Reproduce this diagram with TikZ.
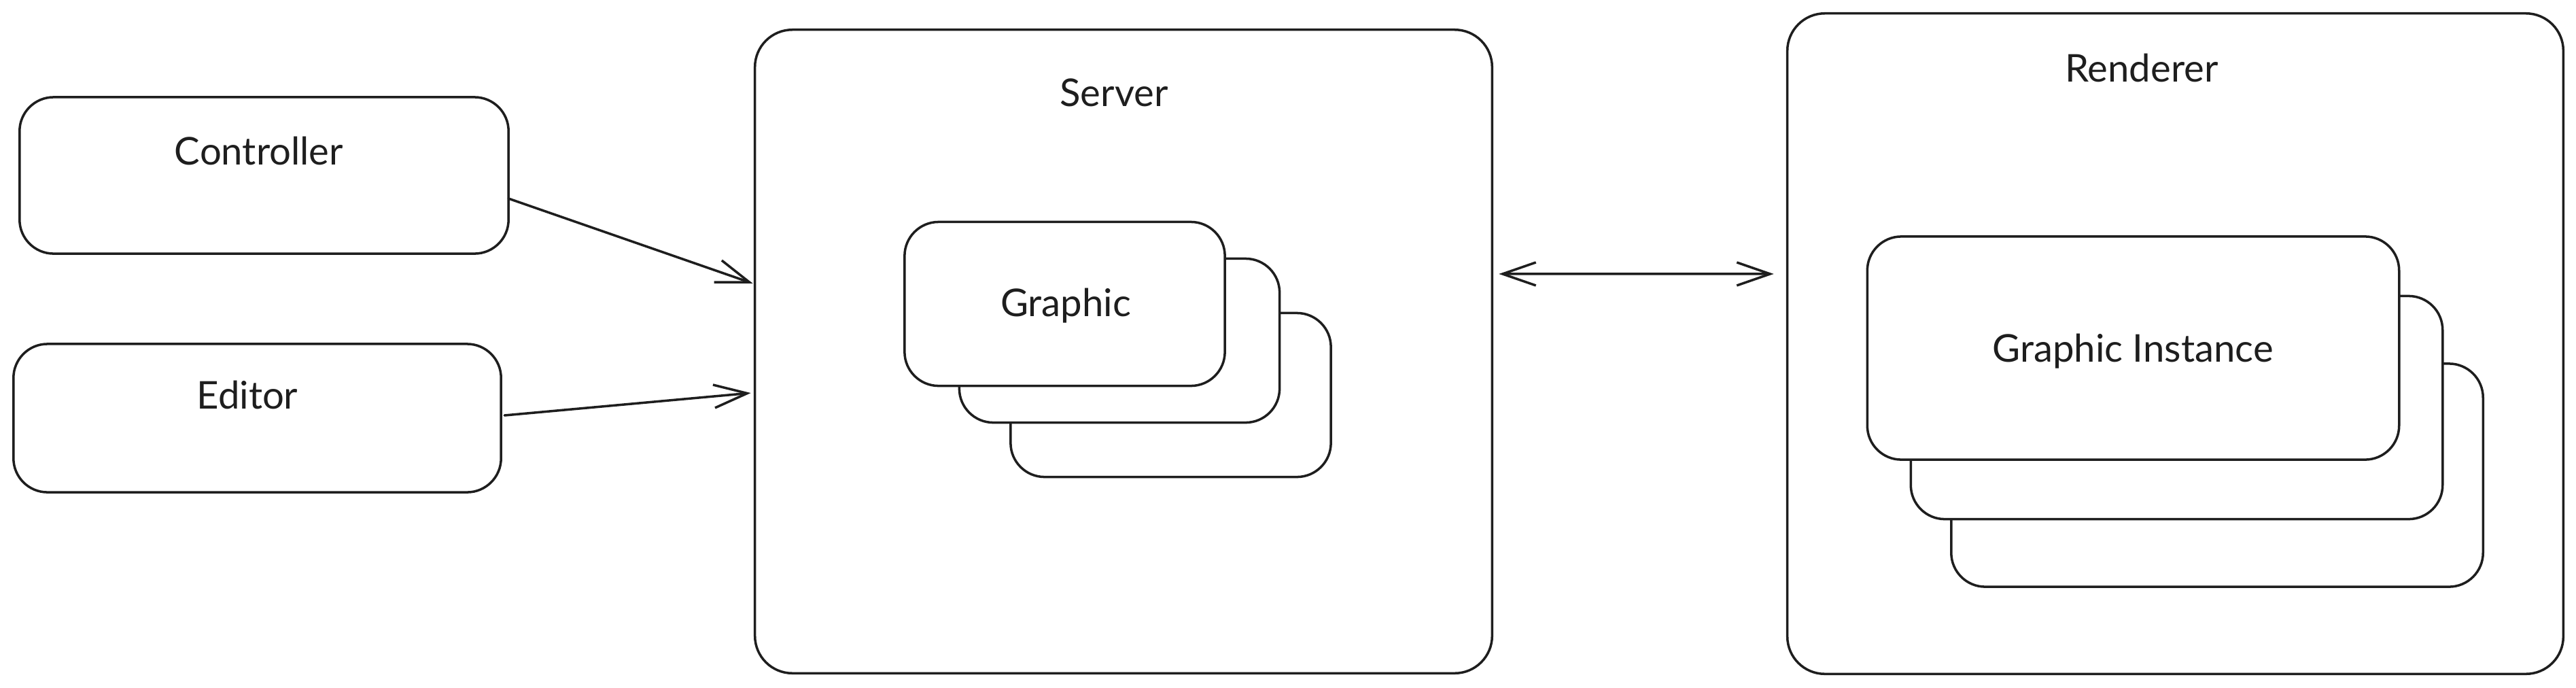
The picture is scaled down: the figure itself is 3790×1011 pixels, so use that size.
\documentclass[tikz,border=0pt]{standalone}
\usepackage{fontspec}
\setmainfont{Lato}
\usetikzlibrary{arrows.meta}
\definecolor{ink}{HTML}{1E1E1E}
\tikzset{
  box/.style={draw=ink, line width=1pt, rounded corners=0.5cm, inner sep=0pt, outer sep=0pt, fill=white},
  bigbox/.style={box, rounded corners=0.55cm},
  lbl/.style={font=\fontsize{16pt}{19pt}\selectfont, text=ink, anchor=base, inner sep=0pt},
  barb/.tip={Straight Barb[length=0.49cm,width=0.34cm]},
  conn/.style={draw=ink, line width=1pt, line cap=round, line join=round},
}
\begin{document}
\begin{tikzpicture}[x=0.01cm, y=-0.01cm]
\useasboundingbox[fill=white] (0,0) rectangle (3790,1011);

% left boxes
\node[box, minimum width=7.19cm, minimum height=2.30cm] (ctrl) at (388.5,258) {};
\node[lbl] (ctrltxt) at (381,242) {Controller};
\node[box, minimum width=7.17cm, minimum height=2.18cm] (edit) at (378.5,615) {};
\node[lbl] (edittxt) at (364,601) {Editor};

% server
\node[bigbox, minimum width=10.84cm, minimum height=9.46cm] (server) at (1653,517) {};
\node[lbl] (servertxt) at (1639,156) {Server};
\node[box, minimum width=4.71cm, minimum height=2.41cm] (g3) at (1722.5,581) {};
\node[box, minimum width=4.71cm, minimum height=2.41cm] (g2) at (1647,501) {};
\node[box, minimum width=4.71cm, minimum height=2.41cm] (g1) at (1566.5,447) {};
\node[lbl] (g1txt) at (1568,465) {Graphic};

% renderer
\node[bigbox, minimum width=11.41cm, minimum height=9.71cm] (rend) at (3200.5,505.5) {};
\node[lbl] (rendtxt) at (3151,120) {Renderer};
\node[box, minimum width=7.82cm, minimum height=3.28cm] (i3) at (3262,699) {};
\node[box, minimum width=7.82cm, minimum height=3.28cm] (i2) at (3202.5,599.5) {};
\node[box, minimum width=7.82cm, minimum height=3.28cm] (i1) at (3138.5,512) {};
\node[lbl] (i1txt) at (3138,532) {Graphic Instance};

% connectors
\draw[conn, -{barb}] ([yshift=-0.34cm]ctrl.east) -- ([xshift=-0.03cm,yshift=1.0cm]server.west);
\draw[conn, -{barb}] ([xshift=0.05cm,yshift=0.04cm]edit.east) -- ([xshift=-0.06cm,yshift=-0.61cm]server.west);
\draw[conn, {barb}-{barb}] ([xshift=0.1cm,yshift=1.14cm]server.east) -- ([xshift=-0.2cm,yshift=1.025cm]rend.west);
\end{tikzpicture}
\end{document}
